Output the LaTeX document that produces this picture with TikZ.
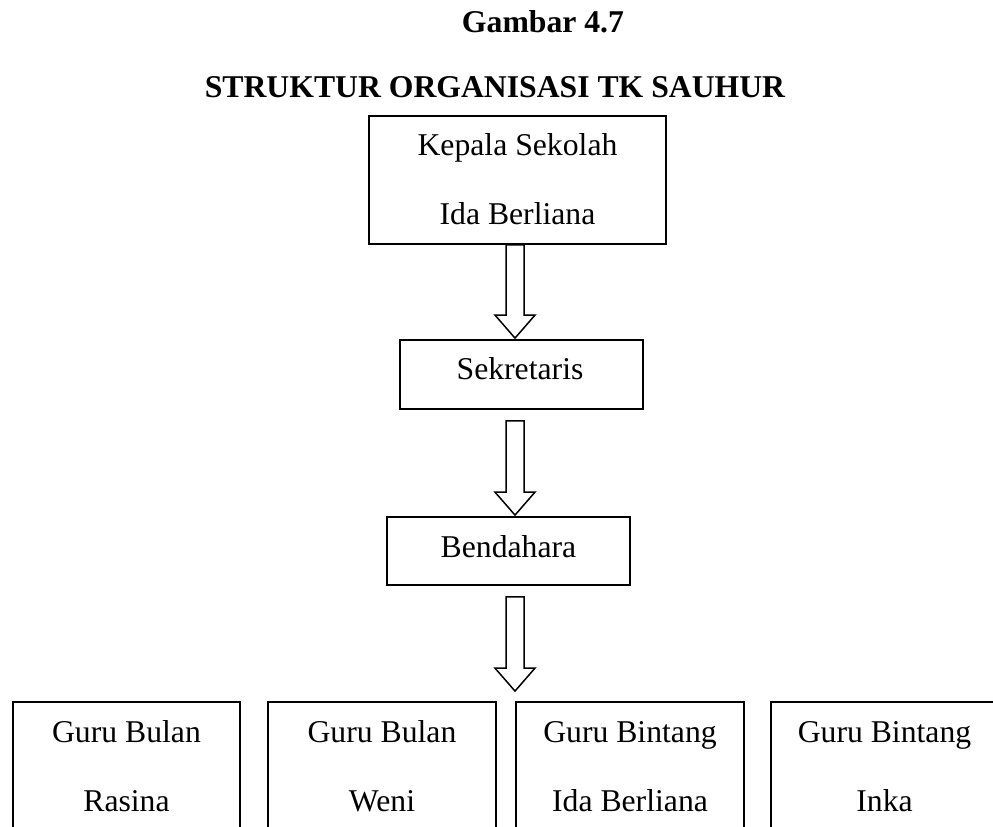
\documentclass[tikz,border=0pt]{standalone}
\usepackage{fontspec}
\setmainfont{Liberation Serif}
\usetikzlibrary{calc}

% block arrow between two named boxes, running down the column at (ax)
\newcommand\blockarrow[4]{% from node, to node, top gap, tip gap
  \path (ax |- #1.south) ++(0,#3) coordinate (bat)
        (ax |- #2.north) ++(0,-#4) coordinate (bah);
  \draw[barrow] ($(bat)+(-9,0)$) -- ($(bah)+(-9,-23)$) -- ($(bah)+(-20,-23)$)
    -- (bah) -- ($(bah)+(20,-23)$) -- ($(bah)+(9,-23)$) -- ($(bat)+(9,0)$) -- cycle;
}

\begin{document}
\begin{tikzpicture}[x=1pt,y=-1pt,
  box/.style={draw=black, line width=1.8pt, rectangle, inner sep=0pt},
  lbl/.style={anchor=base, inner sep=0pt, font=\fontsize{31.7}{38}\selectfont},
  ttl/.style={anchor=base, inner sep=0pt, font=\fontsize{31.7}{38}\selectfont\bfseries},
  barrow/.style={draw=black, line width=1.5pt, line join=miter, fill=white}]
  \useasboundingbox (0,0) rectangle (993,827);
  \clip (0,0) rectangle (993,827);

  % titles
  \node[ttl] (fig) at (543,32) {Gambar 4.7};
  \node[ttl] (title) at (495,97) {STRUKTUR ORGANISASI TK SAUHUR};

  % chain of command
  \node[box, minimum width=297, minimum height=128] (kepala) at (517.5,180) {};
  \node[lbl] (kepala1) at (517.5,155) {Kepala Sekolah};
  \node[lbl] (kepala2) at (517.5,224) {Ida Berliana};

  \node[box, minimum width=243, minimum height=69] (sek) at (521.5,374.5) {};
  \node[lbl] (sek1) at (520,379) {Sekretaris};

  \node[box, minimum width=243, minimum height=68] (bend) at (508.5,551) {};
  \node[lbl] (bend1) at (508.5,557) {Bendahara};

  % teachers
  \node[box, minimum width=227, minimum height=150] (g1) at (126.5,777) {};
  \node[box, minimum width=228, minimum height=150] (g2) at (382,777) {};
  \node[box, minimum width=228, minimum height=150] (g3) at (630,777) {};
  \node[box, minimum width=227, minimum height=150] (g4) at (884.5,777) {};
  \node[lbl] (g1a) at (126.5,742) {Guru Bulan};
  \node[lbl] (g1b) at (126.5,811) {Rasina};
  \node[lbl] (g2a) at (382,742) {Guru Bulan};
  \node[lbl] (g2b) at (382,811) {Weni};
  \node[lbl] (g3a) at (630,742) {Guru Bintang};
  \node[lbl] (g3b) at (630,811) {Ida Berliana};
  \node[lbl] (g4a) at (884.5,742) {Guru Bintang};
  \node[lbl] (g4b) at (884.5,811) {Inka};

  % arrows
  \coordinate (ax) at (515,0);
  \blockarrow{kepala}{sek}{0}{1}
  \blockarrow{sek}{bend}{11}{1}
  \blockarrow{bend}{g2}{11}{10}
\end{tikzpicture}
\end{document}
